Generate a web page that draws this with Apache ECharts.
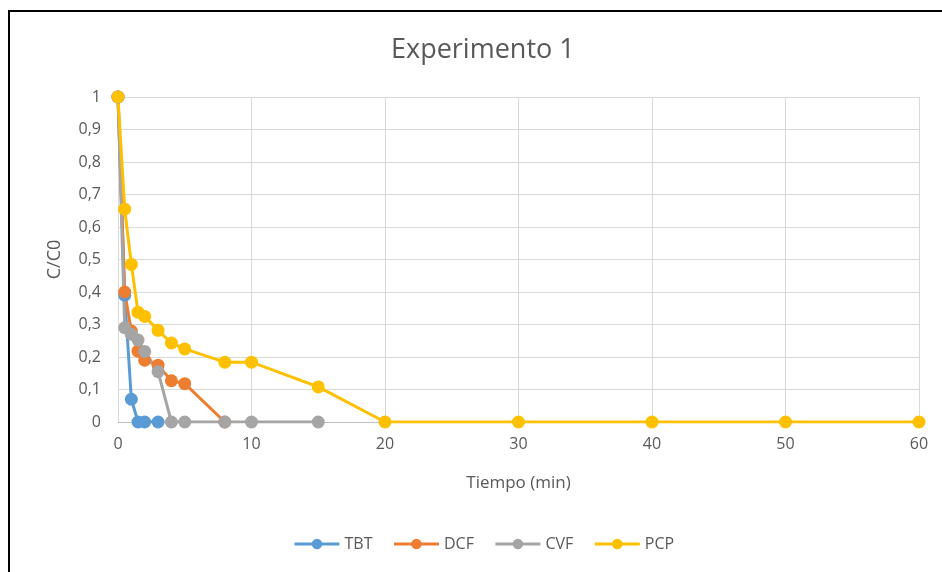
<!DOCTYPE html>
<html><head><meta charset="utf-8">
<script src="https://cdn.jsdelivr.net/npm/echarts@6/dist/echarts.min.js"></script>
<style>html,body{margin:0;padding:0;background:#fff}#c{width:942px;height:572px}</style>
</head><body><div id="c"></div>
<script>
const time = [0,0.5,1,1.5,2,3,4,5,8,10,15,20,30,40,50,60];
const tbt = [1,0.39,0.07,0,0,0];
const dcf = [1,0.40,0.28,0.218,0.19,0.175,0.127,0.118,0];
const cvf = [1,0.29,0.27,0.252,0.217,0.155,0,0,0,0,0];
const pcp = [1,0.655,0.485,0.338,0.325,0.282,0.243,0.225,0.184,0.184,0.108,0,0,0,0,0];
const names = ['TBT','DCF','CVF','PCP'];
const colors = ['#5B9BD5','#ED7D31','#A5A5A5','#FFC000'];
const xTicks = [0,10,20,30,40,50,60];

const font = 'Open Sans';
const pair = v => v.map((y,i)=>[time[i],y]);
const series = [tbt,dcf,cvf,pcp].map((d,i)=>({
  name: names[i], type:'line', data: pair(d),
  symbol:'circle', symbolSize:13,
  lineStyle:{width:3,color:colors[i]},
  itemStyle:{color:colors[i]},
  emphasis:{disabled:true}, animation:false
}));
const chart = echarts.init(document.getElementById('c'));
chart.setOption({
  animation:false,
  title:{text:'Experimento 1', left:386, top:32,
    textStyle:{fontFamily:font,fontSize:27,fontWeight:'normal',color:'#595959'}},
  grid:{left:118,right:23,top:97,bottom:150},
  legend:{bottom:15,left:288,itemWidth:45,itemHeight:13,itemGap:20,
    lineStyle:{width:3},
    textStyle:{fontFamily:font,fontSize:16,color:'#595959'},
    data:names},
  xAxis:{type:'value',min:0,max:60,interval:10,
    name:'Tiempo (min)',nameLocation:'middle',nameGap:53,
    nameTextStyle:{fontFamily:font,fontSize:17,color:'#595959'},
    axisLine:{lineStyle:{color:'#bfbfbf',width:1}},axisTick:{show:false},
    axisLabel:{fontFamily:font,fontSize:16,color:'#595959',margin:14,
      formatter:v=>xTicks.includes(v)?String(v):''},
    splitLine:{lineStyle:{color:'#d9d9d9'}}},
  yAxis:{type:'value',min:0,max:1,interval:0.1,
    name:'C/C0',nameLocation:'middle',nameGap:54,
    nameTextStyle:{fontFamily:font,fontSize:18,color:'#595959'},
    axisLine:{show:false},axisTick:{show:false},
    axisLabel:{fontFamily:font,fontSize:16,color:'#595959',margin:17,
      formatter:v=>String(Math.round(v*10)/10).replace('.',',')},
    splitLine:{lineStyle:{color:'#d9d9d9'}}},
  graphic:[{type:'rect',shape:{x:9,y:11,width:960,height:600},
    style:{fill:'none',stroke:'#000',lineWidth:2},silent:true}],
  series
});
</script></body></html>
